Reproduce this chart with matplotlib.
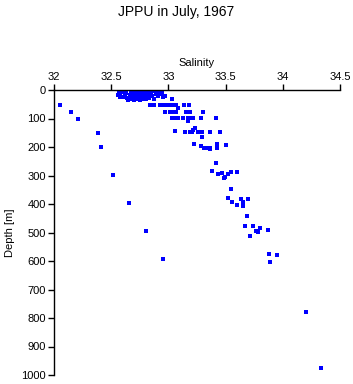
import matplotlib
matplotlib.use("Agg")
import matplotlib.pyplot as plt

plt.rcParams['font.family'] = ['Liberation Sans', 'DejaVu Sans']

title = "JPPU in July, 1967"
xlabel = "Salinity"
ylabel = "Depth [m]"
xticks = [32, 32.5, 33, 33.5, 34, 34.5]
xticklabels = ["32", "32.5", "33", "33.5", "34", "34.5"]
yticks = [0, 100, 200, 300, 400, 500, 600, 700, 800, 900, 1000]

# surface cluster
sal_cluster = [32.57, 32.58, 32.56, 32.60, 32.62, 32.63, 32.62, 32.64, 32.67, 32.68,
               32.69, 32.70, 32.67, 32.71, 32.72, 32.73, 32.74, 32.72, 32.75, 32.76,
               32.78, 32.77, 32.79, 32.80, 32.81, 32.82, 32.80, 32.84, 32.85, 32.86,
               32.87, 32.88, 32.90, 32.92, 32.93, 32.95, 32.70, 32.75, 32.65, 32.61,
               32.66, 32.69, 32.74, 32.78, 32.83, 32.89, 32.91,
               32.58, 32.63, 32.68, 32.71, 32.73, 32.76, 32.79, 32.81, 32.83, 32.86,
               32.70, 32.72, 32.74, 32.77, 32.79, 32.82, 32.94, 32.96]
dep_cluster = [5, 12, 18, 8, 2, 10, 20, 28, 3, 8,
               15, 22, 30, 2, 10, 18, 25, 32, 5, 12,
               20, 30, 3, 10, 16, 25, 33, 5, 12, 20,
               30, 2, 8, 3, 15, 25, 35, 35, 35, 26,
               18, 5, 15, 7, 18, 14, 20,
               25, 4, 24, 28, 5, 27, 22, 6, 28, 5,
               10, 24, 8, 15, 28, 18, 10, 20]

# main profile
sal_main = [32.842, 32.877, 32.93, 32.945, 32.982, 33.003, 33.032, 33.07, 33.134, 33.184,
            33.032, 32.968, 33.082,
            32.974, 33.011, 33.032, 33.053, 33.07, 33.155, 33.193, 33.301,
            33.032, 33.053, 33.085, 33.125, 33.169, 33.193, 33.217, 33.281, 33.415,
            33.169, 33.231, 33.217,
            33.143, 33.187, 33.202, 33.261, 33.296, 33.362, 33.45,
            33.055, 33.292, 33.222, 33.287, 33.31, 33.345, 33.362, 33.368, 33.424, 33.424, 33.503,
            33.415, 33.38, 33.432, 33.471, 33.482, 33.491, 33.524, 33.544, 33.603,
            33.544, 33.52, 33.555, 33.603, 33.638, 33.652, 33.655, 33.693,
            33.684, 33.669, 33.743, 33.766, 33.787, 33.801, 33.713, 33.871,
            33.88, 33.95, 33.889]
dep_main = [51, 51, 51, 51, 51, 51, 51, 51, 51, 51,
            33, 22, 64,
            77, 76, 76, 76, 76, 76, 76, 76,
            99, 99, 99, 99, 99, 99, 99, 99, 99,
            109, 132, 140,
            148, 148, 148, 148, 148, 148, 148,
            144, 166, 188, 198, 202, 202, 208, 202, 191, 202, 192,
            257, 283, 295, 292, 310, 304, 295, 287, 289,
            348, 380, 392, 404, 384, 392, 406, 384,
            442, 477, 477, 494, 499, 484, 513, 491,
            575, 580, 604]

# scattered outliers
sal_out = [32.053, 32.146, 32.213, 32.386, 32.415, 32.52, 32.652, 32.801, 32.95, 34.204, 34.333]
dep_out = [52, 78, 103, 152, 199, 298, 398, 496, 594, 780, 976]

salinity = sal_cluster + sal_main + sal_out
depth = dep_cluster + dep_main + dep_out

fig = plt.figure(figsize=(3.53, 3.84), dpi=100)
ax = fig.add_axes([54/353, 1 - 375/384, (340 - 54)/353, (375 - 90)/384])
ax.plot(salinity, depth, linestyle='none', marker='s', markersize=2.6,
        color='#0000ff', markeredgewidth=0)

ax.set_xlim(32, 34.5)
ax.set_ylim(1000, 0)
ax.xaxis.tick_top()
ax.xaxis.set_label_position('top')
ax.set_xticks(xticks)
ax.set_xticklabels(xticklabels)
ax.set_yticks(yticks)
ax.tick_params(axis='both', direction='out', length=4, width=1, labelsize=8, pad=2)
ax.set_xlabel(xlabel, fontsize=8, labelpad=4)
ax.set_ylabel(ylabel, fontsize=8, labelpad=4)
for s in ['right', 'bottom']:
    ax.spines[s].set_visible(False)
for s in ['left', 'top']:
    ax.spines[s].set_linewidth(1)
fig.text(0.5, 1 - 12/384, title, ha='center', va='center', fontsize=10)

fig.savefig('out.png', dpi=100)
